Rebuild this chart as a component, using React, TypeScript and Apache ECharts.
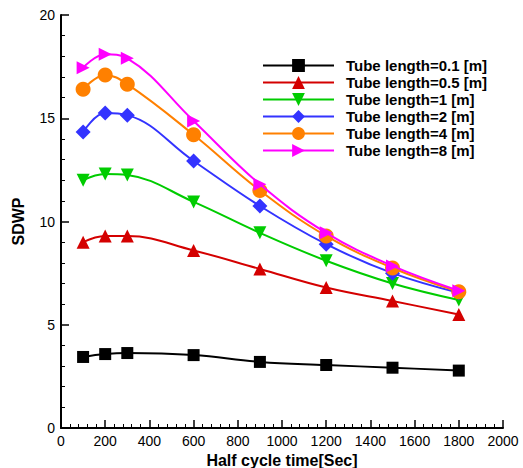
import React, { useEffect, useRef } from "react";
import * as echarts from "echarts";

const xValues = [100, 200, 300, 600, 900, 1200, 1500, 1800];
const seriesNames = [
  "Tube length=0.1 [m]",
  "Tube length=0.5 [m]",
  "Tube length=1 [m]",
  "Tube length=2 [m]",
  "Tube length=4 [m]",
  "Tube length=8 [m]",
];
const len01 = [3.44, 3.58, 3.63, 3.53, 3.2, 3.05, 2.92, 2.78];
const len05 = [9.0, 9.3, 9.3, 8.6, 7.7, 6.8, 6.15, 5.5];
const len1 = [12.0, 12.3, 12.25, 10.95, 9.45, 8.1, 7.0, 6.2];
const len2 = [14.33, 15.25, 15.15, 12.93, 10.75, 8.9, 7.5, 6.55];
const len4 = [16.4, 17.1, 16.65, 14.2, 11.5, 9.3, 7.75, 6.6];
const len8 = [17.45, 18.1, 17.9, 14.87, 11.8, 9.45, 7.85, 6.65];

const allValues = [len01, len05, len1, len2, len4, len8];
const colors = ["#000000", "#d40000", "#00cc00", "#3333ff", "#ff8000", "#ff00ff"];
const symbols = ["rect", "triangle", "triangle", "diamond", "circle", "triangle"];
const rotations = [0, 0, 180, 0, 0, -90];
const sizes = [12, 13, 13, 15, 15, 13];

export default function App() {
  const ref = useRef<HTMLDivElement>(null);
  useEffect(() => {
    if (!ref.current) return;
    const chart = echarts.init(ref.current, null, { renderer: "svg" });
    const font = "Arial, 'Liberation Sans', sans-serif";
    chart.setOption({
      animation: false,
      backgroundColor: "#ffffff",
      grid: { left: 61, top: 15, right: 20, bottom: 40, containLabel: false, outerBoundsMode: "none" },
      legend: {
        orient: "vertical",
        left: 262,
        top: 58,
        padding: 0,
        itemWidth: 71,
        itemHeight: 16,
        itemGap: 2,
        textStyle: {
          fontFamily: font,
          fontWeight: "bold",
          fontSize: 15,
          color: "#000",
          padding: [0, 0, 0, 7],
        },
        data: seriesNames,
      },
      xAxis: {
        type: "value",
        min: 0,
        max: 2000,
        interval: 200,
        name: "Half cycle time[Sec]",
        nameLocation: "middle",
        nameGap: 22,
        nameTextStyle: { fontFamily: font, fontWeight: "bold", fontSize: 16, color: "#000" },
        axisLine: { show: true, lineStyle: { color: "#000", width: 2 } },
        axisTick: { show: true, inside: true, length: 8, lineStyle: { color: "#000", width: 1.5 } },
        minorTick: { show: true, splitNumber: 5, length: 4, lineStyle: { color: "#000", width: 1 } },
        axisLabel: {
          fontFamily: font,
          fontSize: 14,
          color: "#000",
          margin: 6,
          formatter: (v: number) => String(v),
        },
        splitLine: { show: false },
      },
      yAxis: {
        type: "value",
        min: 0,
        max: 20,
        interval: 5,
        name: "SDWP",
        nameLocation: "middle",
        nameGap: 35,
        nameRotate: 90,
        nameTextStyle: { fontFamily: font, fontWeight: "bold", fontSize: 16, color: "#000" },
        axisLine: { show: true, lineStyle: { color: "#000", width: 2 } },
        axisTick: { show: true, inside: true, length: 8, lineStyle: { color: "#000", width: 1.5 } },
        minorTick: { show: true, splitNumber: 5, length: 4, lineStyle: { color: "#000", width: 1 } },
        axisLabel: { fontFamily: font, fontSize: 14, color: "#000", margin: 6 },
        splitLine: { show: false },
      },
      series: allValues.map((vals, i) => ({
        name: seriesNames[i],
        type: "line",
        smooth: 0.4,
        data: vals.map((v, j) => [xValues[j], v]),
        symbol: symbols[i],
        symbolSize: sizes[i],
        symbolRotate: rotations[i],
        showAllSymbol: true,
        lineStyle: { color: colors[i], width: 2 },
        itemStyle: { color: colors[i], borderWidth: 0 },
        z: 2 + i,
      })),
    });
    return () => chart.dispose();
  }, []);
  return (
    <div
      ref={ref}
      style={{ position: "fixed", left: 0, top: 0, width: 523, height: 468, background: "#fff" }}
    />
  );
}
